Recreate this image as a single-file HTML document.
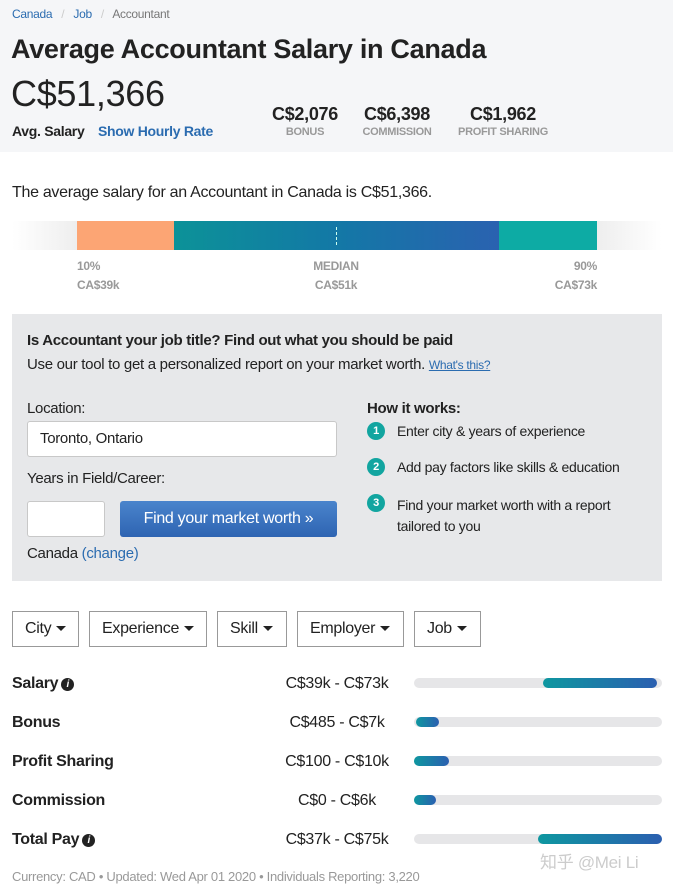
<!DOCTYPE html>
<html><head><meta charset="utf-8"><style>
*{margin:0;padding:0;box-sizing:border-box}
body{width:673px;height:887px;background:#fff;font-family:"Liberation Sans",sans-serif;color:#222;position:relative;overflow:hidden;letter-spacing:-0.3px}
.a{position:absolute;white-space:nowrap}
.hdr{position:absolute;left:0;top:0;width:673px;height:152px;background:#f5f6f8}
.blue{color:#2b6cb0}
.gl{color:#999;font-weight:bold;font-size:12px}
.stat{font-weight:bold;font-size:18px;text-align:center}
.lab{font-size:11px;color:#999;font-weight:bold;text-align:center}
.panel{position:absolute;left:12px;top:314px;width:650px;height:267px;background:#e7e8ea}
.inp{position:absolute;background:#fff;border:1px solid #c8c8c8;border-radius:3px}
.num{position:absolute;width:18px;height:18px;border-radius:50%;background:#12a5a0;color:#fff;font-size:11px;font-weight:bold;text-align:center;line-height:18px}
.dd{position:absolute;top:611px;height:36px;border:1px solid #999;font-size:16px;line-height:34px;padding-left:12px}
.dd:after{content:"";display:inline-block;margin-left:5px;border-left:5px solid transparent;border-right:5px solid transparent;border-top:5px solid #222;vertical-align:middle}
.rl{font-weight:bold;font-size:16px}
.rv{font-size:16px;text-align:center;width:140px}
.tr{position:absolute;left:414px;width:248px;height:10px;background:#e6e6e8;border-radius:5px}
.fl{position:absolute;height:10px;border-radius:5px;background:linear-gradient(90deg,#0e97a0,#2b5fb0)}
.ic{display:inline-block;width:13px;height:13px;border-radius:50%;background:#222;color:#fff;font-size:10px;line-height:13px;text-align:center;font-style:italic;vertical-align:1px;margin-left:3px}
</style></head><body>
<div class="hdr"></div>
<div class="a" style="left:12px;top:7px;font-size:12px"><span class="blue">Canada</span> <span style="color:#ccc;margin:0 6px">/</span> <span class="blue">Job</span> <span style="color:#ccc;margin:0 6px">/</span> <span style="color:#777">Accountant</span></div>
<div class="a" style="left:11px;top:34px;font-size:27px;font-weight:bold">Average Accountant Salary in Canada</div>
<div class="a" style="left:11px;top:73px;font-size:36px;color:#222">C$51,366</div>
<div class="a" style="left:12px;top:123px;font-size:14px;font-weight:bold">Avg. Salary</div>
<div class="a blue" style="left:98px;top:123px;font-size:14px;font-weight:bold">Show Hourly Rate</div>
<div class="a stat" style="left:265px;top:104px;width:80px">C$2,076</div>
<div class="a lab" style="left:265px;top:126px;width:80px">BONUS</div>
<div class="a stat" style="left:357px;top:104px;width:80px">C$6,398</div>
<div class="a lab" style="left:352px;top:126px;width:90px">COMMISSION</div>
<div class="a stat" style="left:463px;top:104px;width:80px">C$1,962</div>
<div class="a lab" style="left:448px;top:126px;width:110px">PROFIT SHARING</div>
<div class="a" style="left:12px;top:184px;font-size:16px">The average salary for an Accountant in Canada is C$51,366.</div>
<div class="a" style="left:12px;top:221px;width:650px;height:29px;background:linear-gradient(90deg,#fff,#eee 10%,#eee 90%,#fff)"></div>
<div class="a" style="left:77px;top:221px;width:97px;height:29px;background:#fca574"></div>
<div class="a" style="left:174px;top:221px;width:325px;height:29px;background:linear-gradient(90deg,#0c9298,#1378a6 50%,#2a62b0)"></div>
<div class="a" style="left:499px;top:221px;width:98px;height:29px;background:#0dabA4"></div>
<div class="a" style="left:336px;top:227px;height:18px;border-left:1px dashed #cfe"></div>
<div class="a gl" style="left:77px;top:259px">10%</div>
<div class="a gl" style="left:77px;top:278px">CA$39k</div>
<div class="a gl" style="left:296px;top:259px;width:80px;text-align:center">MEDIAN</div>
<div class="a gl" style="left:296px;top:278px;width:80px;text-align:center">CA$51k</div>
<div class="a gl" style="left:517px;top:259px;width:80px;text-align:right">90%</div>
<div class="a gl" style="left:517px;top:278px;width:80px;text-align:right">CA$73k</div>
<div class="panel"></div>
<div class="a" style="left:27px;top:332px;font-size:15px;font-weight:bold">Is Accountant your job title? Find out what you should be paid</div>
<div class="a" style="left:27px;top:356px;font-size:15px">Use our tool to get a personalized report on your market worth. <span class="blue" style="font-size:12px;text-decoration:underline">What's this?</span></div>
<div class="a" style="left:27px;top:400px;font-size:15px">Location:</div>
<div class="inp" style="left:27px;top:421px;width:310px;height:36px"></div>
<div class="a" style="left:40px;top:430px;font-size:15px">Toronto, Ontario</div>
<div class="a" style="left:27px;top:470px;font-size:15px">Years in Field/Career:</div>
<div class="inp" style="left:27px;top:501px;width:78px;height:36px"></div>
<div class="a" style="left:120px;top:501px;width:217px;height:36px;border-radius:3px;background:linear-gradient(#4a84cc,#2e64b2);color:#fff;font-size:16px;line-height:36px;text-align:center">Find your market worth »</div>
<div class="a" style="left:27px;top:545px;font-size:15px">Canada <span class="blue">(change)</span></div>
<div class="a" style="left:367px;top:400px;font-size:15px;font-weight:bold">How it works:</div>
<div class="num" style="left:367px;top:422px">1</div>
<div class="a" style="left:397px;top:423px;font-size:14px">Enter city &amp; years of experience</div>
<div class="num" style="left:367px;top:458px">2</div>
<div class="a" style="left:397px;top:459px;font-size:14px">Add pay factors like skills &amp; education</div>
<div class="num" style="left:367px;top:494px">3</div>
<div class="a" style="left:397px;top:495px;font-size:14px;line-height:21px;white-space:normal;width:250px">Find your market worth with a report tailored to you</div>
<div class="dd" style="left:12px;width:67px">City</div>
<div class="dd" style="left:89px;width:118px">Experience</div>
<div class="dd" style="left:217px;width:70px">Skill</div>
<div class="dd" style="left:297px;width:107px">Employer</div>
<div class="dd" style="left:414px;width:67px">Job</div>
<div class="a rl" style="left:12px;top:675px">Salary<span class="ic">i</span></div>
<div class="a rv" style="left:267px;top:675px">C$39k - C$73k</div>
<div class="tr" style="top:678px"><div class="fl" style="left:129px;width:114px"></div></div>
<div class="a rl" style="left:12px;top:714px">Bonus</div>
<div class="a rv" style="left:267px;top:714px">C$485 - C$7k</div>
<div class="tr" style="top:717px"><div class="fl" style="left:2px;width:23px"></div></div>
<div class="a rl" style="left:12px;top:753px">Profit Sharing</div>
<div class="a rv" style="left:267px;top:753px">C$100 - C$10k</div>
<div class="tr" style="top:756px"><div class="fl" style="left:0;width:35px"></div></div>
<div class="a rl" style="left:12px;top:792px">Commission</div>
<div class="a rv" style="left:267px;top:792px">C$0 - C$6k</div>
<div class="tr" style="top:795px"><div class="fl" style="left:0;width:22px"></div></div>
<div class="a rl" style="left:12px;top:831px">Total Pay<span class="ic">i</span></div>
<div class="a rv" style="left:267px;top:831px">C$37k - C$75k</div>
<div class="tr" style="top:834px"><div class="fl" style="left:124px;width:124px"></div></div>
<div class="a" style="left:540px;top:848px;font-size:17px;color:#ccc;font-family:'Liberation Sans','Noto Sans CJK SC',sans-serif">知乎 @Mei Li</div>
<div class="a" style="left:12px;top:869px;font-size:13px;color:#999">Currency: CAD • Updated: Wed Apr 01 2020 • Individuals Reporting: 3,220</div>
</body></html>
